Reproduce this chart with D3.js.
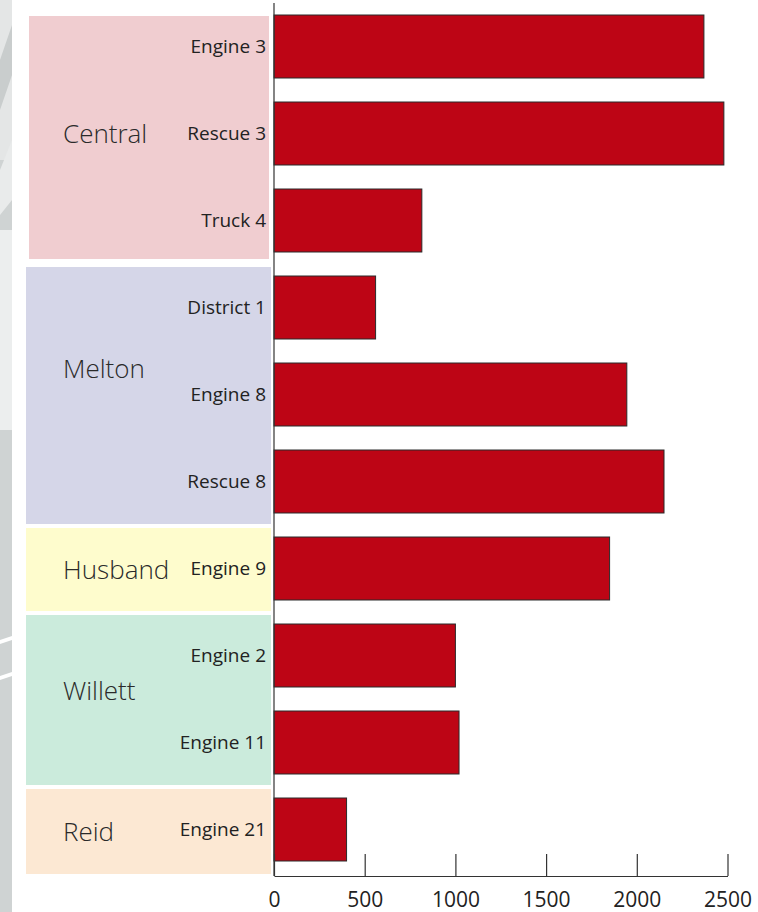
<!DOCTYPE html>
<html>
<head>
<meta charset="utf-8">
<script src="https://cdn.jsdelivr.net/npm/d3@7"></script>
<style>
  html, body { margin: 0; padding: 0; background: #fff; }
  svg { display: block; }
  text { font-family: "Open Sans", "Noto Sans", sans-serif; }
</style>
</head>
<body>
<script>
// Unit call volumes, grouped by station
const units = ["Engine 3", "Rescue 3", "Truck 4", "District 1", "Engine 8", "Rescue 8",
               "Engine 9", "Engine 2", "Engine 11", "Engine 21"];
const calls = [2370, 2480, 815, 560, 1945, 2150, 1850, 1000, 1020, 400];
const unitStation = ["Central", "Central", "Central", "Melton", "Melton", "Melton",
                     "Husband", "Willett", "Willett", "Reid"];
const stations = ["Central", "Melton", "Husband", "Willett", "Reid"];
const stationColors = ["#f0cdd0", "#d5d6e8", "#fefccd", "#cbebdc", "#fce8d3"];
const xTicks = [0, 500, 1000, 1500, 2000, 2500];

const W = 758, H = 912;
const svg = d3.select("body").append("svg").attr("width", W).attr("height", H);

// textured side strip
const strip = svg.append("g");
strip.append("rect").attr("x", 0).attr("y", 0).attr("width", 12).attr("height", H).attr("fill", "#cfd3d3");
strip.append("rect").attr("x", 0).attr("y", 0).attr("width", 12).attr("height", 160).attr("fill", "#e4e6e6");
strip.append("path").attr("d", "M0,60 L12,25 L12,75 L0,110 Z").attr("fill", "#c9cdcd");
strip.append("path").attr("d", "M0,170 L12,140 L12,200 L0,215 Z").attr("fill", "#e9ebeb");
strip.append("rect").attr("x", 0).attr("y", 230).attr("width", 12).attr("height", 200).attr("fill", "#eceeee");
strip.append("path").attr("d", "M0,640 L12,636 L12,640 L0,644 Z").attr("fill", "#ffffff");
strip.append("path").attr("d", "M0,676 L12,672 L12,676 L0,680 Z").attr("fill", "#ffffff");

const x = d3.scaleLinear().domain([0, 2500]).range([274, 727.5]);
const y = d3.scaleBand().domain(units).range([3, 873]).paddingInner(0.276).paddingOuter(0.138);

// station background blocks
const groups = stations.map((s, i) => {
  const idx = units.map((u, j) => j).filter(j => unitStation[j] === s);
  const first = units[idx[0]], last = units[idx[idx.length - 1]];
  return {
    name: s, color: stationColors[i],
    y0: y(first) - y.step() * y.paddingOuter() + (i === 0 ? 13 : 3),
    y1: y(last) + y.bandwidth() + y.step() * y.paddingOuter() - (i === 0 ? 5 : 1) + (i === stations.length - 1 ? 2 : 0)
  };
});

svg.append("g").selectAll("rect").data(groups).join("rect")
  .attr("x", (d, i) => i === 0 ? 29 : 26)
  .attr("width", (d, i) => i === 0 ? 240 : 245)
  .attr("y", d => d.y0)
  .attr("height", d => d.y1 - d.y0)
  .attr("fill", d => d.color);

// station name placement, nudged from block centre
const labelShift = { Central: -4, Melton: -27, Husband: 0, Willett: -9, Reid: 0 };
svg.append("g").selectAll("text").data(groups).join("text")
  .attr("x", 63)
  .attr("y", d => (d.y0 + d.y1) / 2 + labelShift[d.name])
  .attr("dy", "0.35em")
  .attr("font-size", 26)
  .attr("font-weight", 300)
  .attr("fill", "#2a2a2a")
  .text(d => d.name);

// unit labels
svg.append("g").selectAll("text").data(units).join("text")
  .attr("x", 266)
  .attr("y", d => y(d) + y.bandwidth() / 2)
  .attr("dy", "0.35em")
  .attr("text-anchor", "end")
  .attr("font-size", 19)
  .attr("fill", "#222")
  .text(d => d);

// bars
svg.append("g").selectAll("rect").data(units).join("rect")
  .attr("x", x(0))
  .attr("y", d => y(d))
  .attr("width", (d, i) => x(calls[i]) - x(0))
  .attr("height", y.bandwidth())
  .attr("fill", "#bd0515")
  .attr("stroke", "#2a2a2a")
  .attr("stroke-width", 1);

// axes
const axisY = 876;
svg.append("line").attr("x1", x(0)).attr("x2", x(0)).attr("y1", 3).attr("y2", axisY)
  .attr("stroke", "#333").attr("stroke-width", 1.2);

const xAxis = svg.append("g").attr("transform", `translate(0,${axisY})`)
  .call(d3.axisBottom(x).tickValues(xTicks).tickFormat(d3.format("d"))
    .tickSizeInner(-22).tickSizeOuter(0));
xAxis.attr("font-size", null).attr("font-family", null);
xAxis.select(".domain").attr("stroke", "#333").attr("stroke-width", 1.2);
xAxis.selectAll(".tick line").attr("stroke", "#333").attr("stroke-width", 1.2);
xAxis.selectAll(".tick text")
  .attr("font-size", 21).attr("fill", "#222")
  .attr("y", 24).attr("dy", "0.35em");
</script>
</body>
</html>
